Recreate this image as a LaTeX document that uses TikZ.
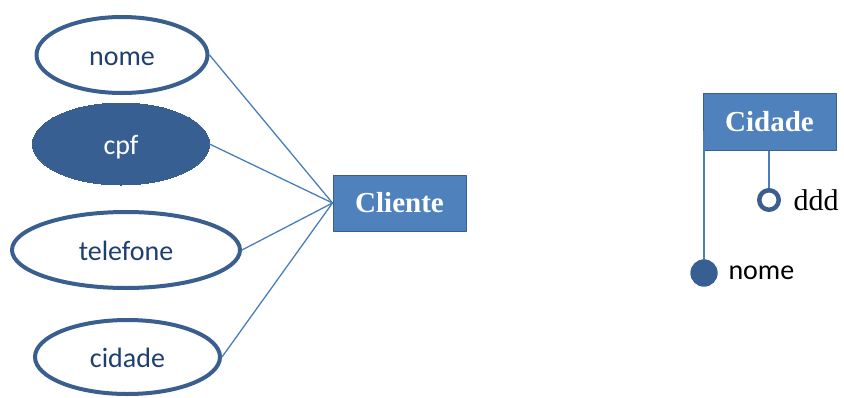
\documentclass[tikz,border=0pt]{standalone}
\usepackage{fontspec}
\setmainfont{Liberation Serif}
\newfontfamily\calibri{Carlito}
\usetikzlibrary{shapes.geometric}
\definecolor{borda}{HTML}{3A5F8E}
\definecolor{escuro}{HTML}{375F91}
\definecolor{caixa}{HTML}{4F81BD}
\definecolor{linha}{HTML}{4A7EBB}
\definecolor{texto}{HTML}{1F3F6E}
\tikzset{
	atrib/.style={ellipse, draw=borda, line width=4pt, fill=white, inner sep=0pt, text=texto, text height=20pt, text depth=0pt, font=\calibri\fontsize{28}{30}\selectfont},
	chave/.style={atrib, fill=escuro, text=white},
	entidade/.style={rectangle, draw=borda, line width=1pt, fill=caixa, text=white, inner sep=0pt, font=\bfseries\fontsize{29}{30}\selectfont},
	liga/.style={draw=linha, line width=1.3pt}
}
\begin{document}
\begin{tikzpicture}[x=1pt, y=-1pt, line join=round, line cap=round]
	\useasboundingbox (0,0) rectangle (844,397);
	% entidade cliente e atributos
	\node[entidade, minimum width=133pt, minimum height=56pt] (cliente) at (399.5,203) {Cliente};
	\node[atrib, minimum width=171pt, minimum height=76pt] (nome) at (122,55) {nome};
	\node[chave, minimum width=177pt, minimum height=82pt, line width=0pt] (cpf) at (121,144) {cpf};
	\node[atrib, minimum width=228pt, minimum height=76pt] (telefone) at (126,250) {telefone};
	\node[atrib, minimum width=185pt, minimum height=74pt] (cidade) at (127.5,357) {cidade};
	\foreach \a in {nome,cpf,telefone,cidade}
		\draw[liga] (\a.east) -- (cliente.west);
	% entidade cidade, notacao de pirulito
	\node[entidade, minimum width=133pt, minimum height=57pt] (ecidade) at (769.5,121.5) {Cidade};
	\node[circle, fill=escuro, inner sep=0pt, minimum size=27pt] (pnome) at (704,273) {};
	\node[circle, draw=borda, line width=4.5pt, fill=white, inner sep=0pt, minimum size=19.5pt] (pddd) at (769,200) {};
	\draw[liga, line cap=butt] (pnome.center) -- (pnome |- ecidade.south) -- ++(0,-20);
	\draw[liga, line cap=butt] (pddd.north) -- (pddd |- ecidade.south);
	\node[anchor=west, font=\calibri\fontsize{28}{30}\selectfont] (tnome) at (725,273) {nome};
	\node[anchor=west, font=\fontsize{30}{30}\selectfont] (tddd) at (790,200) {ddd};
	\fill[escuro] (pnome) circle (13.5pt);
\end{tikzpicture}
\end{document}
